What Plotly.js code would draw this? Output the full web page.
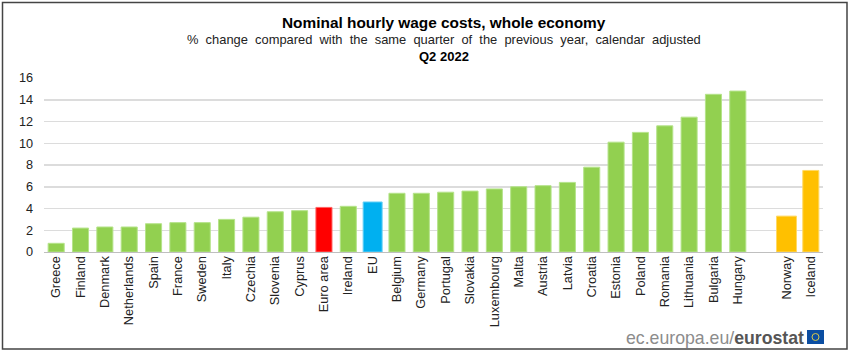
<!DOCTYPE html>
<html><head><meta charset="utf-8">
<script src="https://cdn.plot.ly/plotly-3.0.0.min.js"></script>
<style>html,body{margin:0;padding:0;background:#fff}#c{width:850px;height:353px}</style>
</head><body><div id="c"></div>
<script>
const categories = ["Greece","Finland","Denmark","Netherlands","Spain","France","Sweden","Italy","Czechia","Slovenia","Cyprus","Euro area","Ireland","EU","Belgium","Germany","Portugal","Slovakia","Luxembourg","Malta","Austria","Latvia","Croatia","Estonia","Poland","Romania","Lithuania","Bulgaria","Hungary"," ","Norway","Iceland"];
const values = [0.8,2.2,2.3,2.3,2.6,2.7,2.7,3.0,3.2,3.7,3.8,4.1,4.2,4.6,5.4,5.4,5.5,5.6,5.8,6.0,6.1,6.4,7.8,10.1,11.0,11.6,12.4,14.5,14.8,null,3.3,7.5];
const groups = ["c","c","c","c","c","c","c","c","c","c","c","ea","c","eu","c","c","c","c","c","c","c","c","c","c","c","c","c","c","c","c","o","o"];
const palette = {c:"#92d050",ea:"#ff0000",eu:"#00b0f0",o:"#ffc000"};
const outline = {c:"#b5e38a",ea:"#ff6666",eu:"#66d0f6",o:"#ffd966"};
const yTicks = [0,2,4,6,8,10,12,14,16];
const F = "Liberation Sans, Arial, sans-serif";
const sp = "\u00a0";
const subtitle = ["%","change","compared","with","the","same","quarter","of","the","previous","year,","calendar","adjusted"].join(" "+sp);
const W = 779, H = 174;
const px = v => (v-44)/W, py = v => (252-v)/H;
const titleX = px(444.5);
const layout = {
  width:850,height:353,
  margin:{l:44,r:27,t:78,b:101},
  paper_bgcolor:"#fff",plot_bgcolor:"#fff",
  showlegend:false,
  font:{family:F,color:"#222",size:12},
  xaxis:{type:"category",categoryorder:"array",categoryarray:categories,range:[-0.5,31.5],
    tickangle:-90,ticks:"",showgrid:false,showline:true,linecolor:"#bfbfbf",linewidth:1,
    tickfont:{family:F,size:12.8,color:"#222"},ticklabelstandoff:-2,fixedrange:true,automargin:false},
  yaxis:{range:[0,16],tickvals:yTicks,ticks:"",showgrid:true,gridcolor:"#dcdcdc",gridwidth:1.5,
    zeroline:false,showline:false,tickfont:{family:F,size:12.7,color:"#222"},ticklabelstandoff:10,fixedrange:true,automargin:false},
  annotations:[
    {xref:"paper",yref:"paper",x:titleX,xanchor:"center",y:1,yshift:56,yanchor:"middle",showarrow:false,
     text:"<b>Nominal hourly wage costs, whole economy</b>",font:{family:F,size:15.4,color:"#000"}},
    {xref:"paper",yref:"paper",x:titleX,xanchor:"center",y:1,yshift:39,yanchor:"middle",showarrow:false,
     text:subtitle,font:{family:F,size:12.9,color:"#222"}},
    {xref:"paper",yref:"paper",x:titleX,xanchor:"center",y:1,yshift:22,yanchor:"middle",showarrow:false,
     text:"<b>Q2 2022</b>",font:{family:F,size:13,color:"#000"}},
    {xref:"paper",yref:"paper",x:1.0,xanchor:"right",xshift:-17,y:0,yshift:-86,yanchor:"middle",showarrow:false,
     text:"<span style='color:#8c8c8c'>ec.europa.eu/</span><b style='color:#555'>eurostat</b>",font:{family:F,size:17.7}}
  ],
  shapes:[
    {type:"rect",xref:"paper",yref:"paper",x0:px(2.5),x1:px(847),y0:py(349),y1:py(2.5),line:{color:"#444",width:1.5},fillcolor:"rgba(0,0,0,0)",layer:"above"},
    {type:"rect",xref:"paper",yref:"paper",x0:px(807),x1:px(824),y0:py(344),y1:py(330),line:{width:0},fillcolor:"#0b4ea2"},
    {type:"circle",xref:"paper",yref:"paper",x0:px(812),x1:px(819),y0:py(340.5),y1:py(333.5),line:{color:"#d9c94a",width:1},fillcolor:"rgba(0,0,0,0)"}
  ]
};
const barWidths = categories.map(c => c==="EU" ? 0.78 : c==="Norway" ? 0.82 : 0.66);
Plotly.newPlot("c",[{type:"bar",x:categories,y:values,width:barWidths,
  marker:{color:groups.map(g=>palette[g]),line:{color:groups.map(g=>outline[g]),width:1}},
  hoverinfo:"x+y"}],layout,{displayModeBar:false,staticPlot:true});
</script></body></html>
